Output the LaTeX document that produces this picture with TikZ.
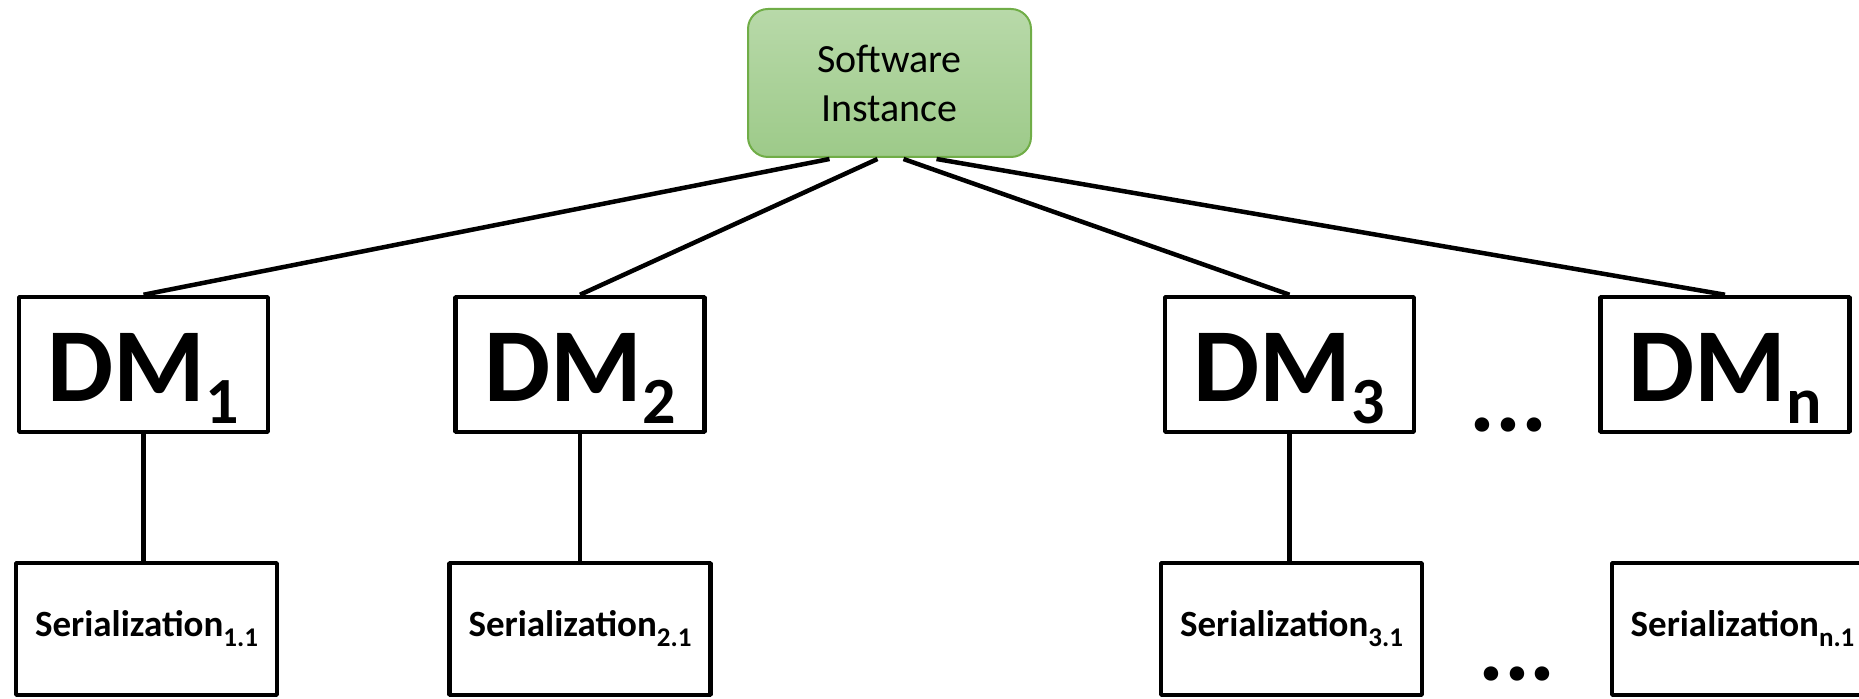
\documentclass[tikz,border=0pt]{standalone}
\usepackage{fontspec}
\setmainfont{Carlito}
\definecolor{sitop}{RGB}{184,217,169}
\definecolor{sibottom}{RGB}{157,202,137}
\definecolor{siborder}{RGB}{112,173,71}
\newcommand{\dmtext}[1]{DM\raisebox{-22bp}{\fontsize{66bp}{66bp}\selectfont #1}}
\newcommand{\sertext}[1]{Serialization\raisebox{-10bp}{\fontsize{27bp}{27bp}\selectfont #1}}
\tikzset{
  sibox/.style={draw=siborder, line width=2bp, rounded corners=20bp,
    top color=sitop, bottom color=sibottom,
    minimum width=283bp, minimum height=148bp, inner sep=0pt,
    align=center, font=\fontsize{40bp}{49bp}\selectfont},
  dmbox/.style={draw, line width=4.5bp, minimum width=249bp, minimum height=135bp,
    inner sep=0pt, text height=75bp, text depth=0bp,
    font=\fontsize{105bp}{105bp}\selectfont\bfseries},
  serbox/.style={draw, line width=4.5bp, minimum width=261bp, minimum height=132bp,
    inner sep=0pt, text height=26bp, text depth=10bp,
    font=\fontsize{37bp}{37bp}\selectfont\bfseries},
  dotsnode/.style={inner sep=0pt, anchor=base, font=\fontsize{97bp}{97bp}\selectfont\bfseries},
  link/.style={line width=4.5bp},
}
\begin{document}
\begin{tikzpicture}[line join=bevel]
  \useasboundingbox (0bp,0bp) rectangle (1859bp,699bp);
%%
  % Node: si
  \node[sibox] (si) at (889.5bp,616bp) {Software\\Instance};
  % Node: dm1
  \node[dmbox] (dm1) at (143.5bp,334.5bp) {\dmtext{1}};
  % Node: dm2
  \node[dmbox] (dm2) at (580bp,334.5bp) {\dmtext{2}};
  % Node: dm3
  \node[dmbox] (dm3) at (1289.5bp,334.5bp) {\dmtext{3}};
  % Node: dmn
  \node[dmbox] (dmn) at (1725bp,334.5bp) {\dmtext{n}};
  % Node: ser1
  \node[serbox] (ser1) at (146.5bp,70bp) {\sertext{1.1}};
  % Node: ser2
  \node[serbox] (ser2) at (580bp,70bp) {\sertext{2.1}};
  % Node: ser3
  \node[serbox] (ser3) at (1291.5bp,70bp) {\sertext{3.1}};
  % Node: sern
  \node[serbox] (sern) at (1742.5bp,70bp) {\sertext{n.1}};
  % Node: dotsdm, dotsser
  \node[dotsnode] (dotsdm) at (1508.5bp,267bp) {...};
  \node[dotsnode] (dotsser) at (1517bp,19bp) {...};
%%
  % Edge: si -> dm1
  \draw[link] ([xshift=-60bp,yshift=-1bp]si.south) -- (dm1.north);
  % Edge: si -> dm2
  \draw[link] ([xshift=-12bp,yshift=-1bp]si.south) -- (dm2.north);
  % Edge: si -> dm3
  \draw[link] ([xshift=14bp,yshift=-1bp]si.south) -- (dm3.north);
  % Edge: si -> dmn
  \draw[link] ([xshift=47bp,yshift=-1bp]si.south) -- (dmn.north);
  % Edge: dm -> ser
  \draw[link] (dm1.south) -- (dm1.south |- ser1.north);
  \draw[link] (dm2.south) -- (dm2.south |- ser2.north);
  \draw[link] (dm3.south) -- (dm3.south |- ser3.north);
%
\end{tikzpicture}
\end{document}
